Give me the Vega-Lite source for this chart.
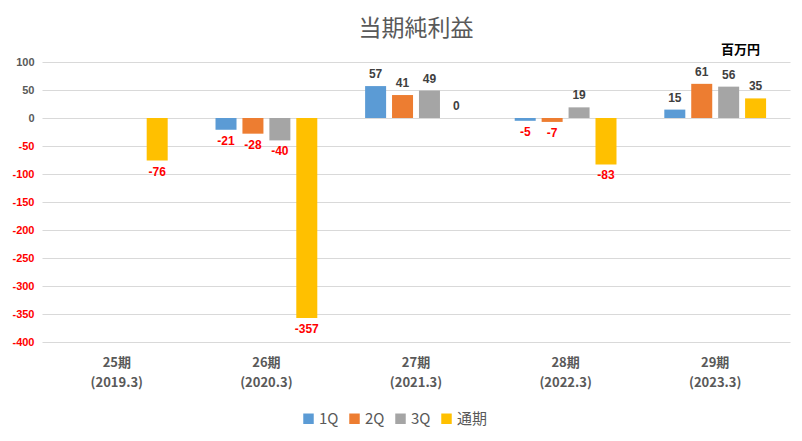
{
  "$schema": "https://vega.github.io/schema/vega-lite/v6.json",
  "width": 748,
  "height": 280,
  "autosize": {"type": "none"},
  "padding": {"left": 42, "top": 62, "right": 12, "bottom": 99},
  "background": "white",
  "title": {"text": "当期純利益", "fontSize": 23, "font": "Noto Sans CJK JP", "fontWeight": "normal", "color": "#595959", "anchor": "middle", "offset": 3},
  "config": {"view": {"stroke": null}},
  "data": {"values": [
    {"period": "25期|(2019.3)", "q": "通期", "value": -76},
    {"period": "26期|(2020.3)", "q": "1Q", "value": -21},
    {"period": "26期|(2020.3)", "q": "2Q", "value": -28},
    {"period": "26期|(2020.3)", "q": "3Q", "value": -40},
    {"period": "26期|(2020.3)", "q": "通期", "value": -357},
    {"period": "27期|(2021.3)", "q": "1Q", "value": 57},
    {"period": "27期|(2021.3)", "q": "2Q", "value": 41},
    {"period": "27期|(2021.3)", "q": "3Q", "value": 49},
    {"period": "27期|(2021.3)", "q": "通期", "value": 0},
    {"period": "28期|(2022.3)", "q": "1Q", "value": -5},
    {"period": "28期|(2022.3)", "q": "2Q", "value": -7},
    {"period": "28期|(2022.3)", "q": "3Q", "value": 19},
    {"period": "28期|(2022.3)", "q": "通期", "value": -83},
    {"period": "29期|(2023.3)", "q": "1Q", "value": 15},
    {"period": "29期|(2023.3)", "q": "2Q", "value": 61},
    {"period": "29期|(2023.3)", "q": "3Q", "value": 56},
    {"period": "29期|(2023.3)", "q": "通期", "value": 35}
  ]},
  "encoding": {
    "x": {"field": "period", "type": "nominal", "sort": null,
      "scale": {"paddingInner": 0.28, "paddingOuter": 0.14},
      "axis": {"title": null, "labelAngle": 0, "domain": false, "ticks": false, "grid": false,
        "labelExpr": "split(datum.label, '|')", "labelFontSize": 13, "labelFontWeight": "bold",
        "labelFont": "Noto Sans CJK JP", "labelColor": "#595959", "labelPadding": 14, "labelLineHeight": 20}},
    "xOffset": {"field": "q", "type": "nominal", "scale": {"domain": ["1Q", "2Q", "3Q", "通期"], "paddingInner": 0.22, "paddingOuter": 0.11}},
    "y": {"field": "value", "type": "quantitative",
      "scale": {"domain": [-400, 100], "nice": false},
      "axis": {"title": null, "values": [-400, -350, -300, -250, -200, -150, -100, -50, 0, 50, 100],
        "labelExpr": "'' + datum.value",
        "domain": false, "ticks": false, "gridColor": "#D9D9D9", "labelPadding": 8,
        "labelFontSize": 11, "labelFontWeight": "bold", "labelFont": "Liberation Sans",
        "labelColor": {"condition": {"test": "datum.value < 0", "value": "#FF0000"}, "value": "#595959"}}}
  },
  "layer": [
    {"mark": {"type": "bar"},
      "encoding": {"color": {"field": "q", "type": "nominal",
        "scale": {"domain": ["1Q", "2Q", "3Q", "通期"], "range": ["#5B9BD5", "#ED7D31", "#A5A5A5", "#FFC000"]},
        "legend": {"title": null, "orient": "none", "legendX": 259, "legendY": 349, "direction": "horizontal", "symbolType": "square",
          "symbolSize": 110, "symbolStrokeWidth": 0, "labelFontSize": 15, "labelFont": "Noto Sans CJK JP", "labelColor": "#595959",
          "columnPadding": 8, "labelOffset": 3}}}},
    {"transform": [{"filter": "datum.value >= 0"}],
      "mark": {"type": "text", "baseline": "bottom", "dy": -5, "fontSize": 12, "fontWeight": "bold", "font": "Liberation Sans", "fill": "#404040"},
      "encoding": {"text": {"field": "value", "type": "nominal"}}},
    {"transform": [{"filter": "datum.value < 0"}],
      "mark": {"type": "text", "baseline": "top", "dy": 6, "fontSize": 12, "fontWeight": "bold", "font": "Liberation Sans", "fill": "#FF0000"},
      "encoding": {"text": {"field": "value", "type": "nominal"}}},
    {"data": {"values": [{"label": "百万円", "period": "29期|(2023.3)", "q": "通期", "value": 100}]},
      "mark": {"type": "text", "baseline": "middle", "dx": -15, "dy": -12, "fontSize": 13, "fontWeight": "bold", "font": "Noto Sans CJK JP", "fill": "#000000"},
      "encoding": {"text": {"field": "label"}}}
  ]
}
